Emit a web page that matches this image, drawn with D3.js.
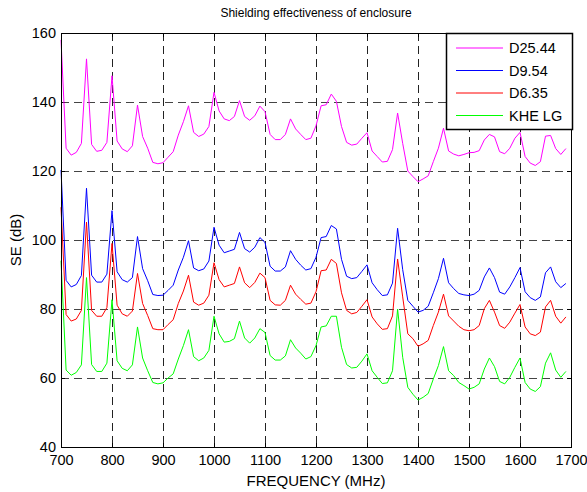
<!DOCTYPE html>
<html>
<head>
<meta charset="utf-8">
<script src="https://cdn.jsdelivr.net/npm/d3@7"></script>
<style>
  body { margin: 0; background: #fff; }
  svg { font-family: "Liberation Sans", Arial, sans-serif; }
</style>
</head>
<body>
<svg id="chart" width="587" height="492"></svg>
<script>
// 周波数 (MHz) 700〜1690, 10 MHz 刻み
const freq = d3.range(700, 1700, 10);

const d2544 = [
  158.0, 126.6, 124.6, 125.4, 128.0, 152.5, 127.7, 125.7, 126.0, 128.3,
  147.6, 128.7, 126.4, 125.6, 127.3, 139.1, 130.0, 126.6, 122.5, 122.1,
  122.4, 124.0, 125.6, 130.4, 134.3, 138.9, 131.2, 130.0, 130.7, 132.9,
  142.8, 137.4, 135.1, 134.6, 135.8, 140.4, 135.8, 134.7, 136.0, 138.8,
  137.2, 130.6, 129.1, 129.1, 130.6, 135.1, 132.2, 130.6, 129.1, 129.5,
  133.1, 138.9, 139.2, 142.3, 140.2, 132.9, 128.3, 127.5, 127.8, 129.5,
  131.1, 125.8, 124.2, 122.6, 122.8, 126.2, 136.8, 128.0, 120.0, 118.4,
  116.9, 117.7, 118.6, 122.7, 126.6, 132.4, 125.8, 124.9, 124.4, 124.8,
  125.3, 125.4, 125.9, 129.0, 130.6, 129.9, 125.6, 125.0, 126.6, 129.5,
  131.2, 124.2, 122.3, 121.6, 122.7, 130.1, 130.3, 126.5, 124.8, 126.5
];

const d954 = [
  120.3, 88.3, 86.4, 87.1, 89.7, 115.0, 89.8, 87.8, 87.8, 90.1,
  108.5, 90.8, 88.5, 87.8, 89.1, 101.0, 91.7, 88.2, 84.2, 83.9,
  84.0, 85.4, 86.9, 91.3, 95.0, 99.8, 91.9, 91.1, 91.6, 93.9,
  103.7, 98.5, 96.3, 96.8, 97.3, 102.2, 97.5, 96.5, 97.9, 100.7,
  99.3, 92.4, 91.0, 91.0, 92.2, 96.9, 94.4, 92.7, 91.3, 91.7,
  95.0, 100.7, 101.0, 104.2, 103.2, 94.4, 89.5, 88.8, 89.1, 90.9,
  92.8, 87.6, 85.6, 83.9, 84.1, 87.5, 103.4, 91.4, 82.5, 80.8,
  79.1, 79.6, 80.8, 84.7, 88.8, 94.7, 87.6, 85.9, 84.5, 84.1,
  83.9, 84.3, 85.4, 89.3, 91.9, 89.1, 84.9, 84.3, 86.4, 89.1,
  92.0, 85.0, 83.3, 82.5, 83.5, 90.5, 92.2, 87.9, 86.2, 87.4
];

const d635 = [
  109.5, 78.4, 76.5, 77.1, 79.6, 105.2, 79.6, 77.9, 77.9, 80.4,
  99.0, 81.1, 78.6, 77.9, 79.4, 90.3, 81.6, 78.1, 74.3, 74.0,
  74.0, 75.5, 76.9, 81.6, 85.2, 89.8, 82.0, 81.1, 81.7, 84.0,
  93.4, 88.5, 86.4, 86.9, 87.4, 92.2, 87.6, 86.2, 87.7, 90.4,
  89.1, 82.5, 81.2, 81.1, 82.5, 86.9, 84.3, 82.8, 81.4, 81.7,
  85.0, 91.1, 91.3, 94.4, 93.2, 84.7, 79.6, 78.6, 79.0, 80.8,
  82.7, 77.7, 75.7, 74.1, 74.3, 78.0, 94.5, 83.5, 72.8, 71.4,
  69.2, 69.9, 70.9, 75.2, 79.1, 84.3, 78.0, 76.5, 75.0, 74.0,
  73.7, 74.0, 75.2, 80.1, 82.5, 79.1, 75.2, 74.4, 76.2, 78.8,
  81.3, 74.8, 72.8, 72.3, 73.3, 80.6, 82.5, 77.9, 75.9, 77.7
];

const kheLg = [
  94.0, 62.3, 60.8, 61.6, 63.8, 89.1, 63.9, 61.9, 61.9, 64.3,
  82.7, 65.0, 62.8, 62.1, 63.8, 74.8, 65.8, 62.1, 58.7, 58.3,
  58.6, 60.0, 61.2, 65.5, 69.4, 74.0, 66.2, 65.0, 65.8, 68.0,
  77.9, 72.8, 70.4, 70.6, 71.4, 76.5, 71.6, 70.1, 71.6, 74.3,
  73.2, 66.5, 65.2, 65.2, 66.4, 71.1, 68.7, 67.2, 65.5, 66.2,
  69.4, 74.8, 75.1, 77.9, 77.9, 68.9, 63.9, 62.9, 63.1, 64.9,
  67.0, 62.1, 60.2, 58.4, 58.6, 62.1, 80.0, 66.0, 57.3, 55.3,
  53.6, 54.4, 55.5, 59.7, 63.6, 69.1, 62.1, 60.7, 58.7, 57.8,
  56.8, 57.3, 58.3, 62.6, 65.8, 63.3, 59.0, 58.3, 60.2, 63.1,
  65.8, 58.7, 56.8, 56.1, 57.5, 64.3, 67.3, 62.3, 60.2, 61.9
];

const seriesNames = ["D25.44", "D9.54", "D6.35", "KHE LG"];
const seriesColors = ["#ff00ff", "#0000ff", "#ff0000", "#00ff00"];
const xTicks = [700, 800, 900, 1000, 1100, 1200, 1300, 1400, 1500, 1600, 1700];
const yTicks = [40, 60, 80, 100, 120, 140, 160];

const seriesValues = [d2544, d954, d635, kheLg];

// レイアウト
const margin = { top: 33, right: 16, bottom: 45, left: 61 };
const width = 587 - margin.left - margin.right;
const height = 492 - margin.top - margin.bottom;

const svg = d3.select("#chart");
const g = svg.append("g").attr("transform", `translate(${margin.left},${margin.top})`);

const x = d3.scaleLinear().domain([700, 1700]).range([0, width]);
const y = d3.scaleLinear().domain([40, 160]).range([height, 0]);

// グリッド
g.append("g")
  .selectAll("line")
  .data(xTicks.slice(1, -1))
  .join("line")
  .attr("x1", (d) => Math.round(x(d)) + 0.5)
  .attr("x2", (d) => Math.round(x(d)) + 0.5)
  .attr("y1", 0)
  .attr("y2", height)
  .attr("stroke", "#222")
  .attr("stroke-width", 1)
  .attr("stroke-dasharray", "8,5");

g.append("g")
  .selectAll("line")
  .data(yTicks.slice(1, -1))
  .join("line")
  .attr("x1", 0)
  .attr("x2", width)
  .attr("y1", (d) => Math.round(y(d)) + 0.5)
  .attr("y2", (d) => Math.round(y(d)) + 0.5)
  .attr("stroke", "#444")
  .attr("stroke-width", 1.2)
  .attr("stroke-dasharray", "8,5");

// 軸
const xAxis = g.append("g")
  .attr("transform", `translate(0,${height})`)
  .call(d3.axisBottom(x).tickValues(xTicks).tickSize(-4).tickPadding(8).tickFormat(d3.format("d")));
const yAxis = g.append("g")
  .call(d3.axisLeft(y).tickValues(yTicks).tickSize(-4).tickPadding(5).tickFormat(d3.format("d")));

[xAxis, yAxis].forEach((a) => {
  a.select(".domain").remove();
  a.selectAll("text").attr("font-size", 14.5).attr("fill", "#000")
    .attr("font-family", "'Liberation Sans', Arial, sans-serif");
  a.selectAll("line").attr("stroke", "#000");
});

// 上・右の目盛り
g.append("g")
  .call(d3.axisTop(x).tickValues(xTicks).tickSize(-4).tickFormat(""))
  .call((a) => a.select(".domain").remove());
g.append("g")
  .attr("transform", `translate(${width},0)`)
  .call(d3.axisRight(y).tickValues(yTicks).tickSize(-4).tickFormat(""))
  .call((a) => a.select(".domain").remove());

// 系列
const line = d3.line()
  .x((d, i) => x(freq[i]))
  .y((d) => y(d));

g.append("g")
  .selectAll("path")
  .data(seriesValues)
  .join("path")
  .attr("d", (d) => line(d))
  .attr("fill", "none")
  .attr("stroke", (d, i) => seriesColors[i])
  .attr("stroke-width", 1)
  .attr("stroke-linejoin", "round");

// 枠
g.append("rect")
  .attr("x", 0.5)
  .attr("y", 0.5)
  .attr("width", width)
  .attr("height", height)
  .attr("fill", "none")
  .attr("stroke", "#000")
  .attr("stroke-width", 1);

// 凡例
const legend = g.append("g").attr("transform", `translate(${446 - margin.left},${0})`);
legend.append("rect")
  .attr("x", 0.5)
  .attr("y", 0.5)
  .attr("width", 126)
  .attr("height", 96)
  .attr("fill", "#fff")
  .attr("stroke", "#000")
  .attr("stroke-width", 1.5);

const rows = legend.selectAll(".row")
  .data(seriesNames)
  .join("g")
  .attr("class", "row")
  .attr("transform", (d, i) => `translate(0,${15 + i * 22.5})`);

rows.append("line")
  .attr("x1", 10)
  .attr("x2", 57)
  .attr("stroke", (d, i) => seriesColors[i])
  .attr("stroke-width", 1);

rows.append("text")
  .attr("x", 63)
  .attr("dy", "0.35em")
  .attr("font-size", 14.5)
  .text((d) => d);

// タイトル・軸ラベル
svg.append("text")
  .attr("x", margin.left + width / 2)
  .attr("y", 17)
  .attr("text-anchor", "middle")
  .attr("font-size", 12)
  .text("Shielding effectiveness of enclosure");

svg.append("text")
  .attr("x", margin.left + width / 2)
  .attr("y", 486)
  .attr("text-anchor", "middle")
  .attr("font-size", 15)
  .text("FREQUENCY (MHz)");

svg.append("text")
  .attr("transform", `translate(21,${margin.top + height / 2}) rotate(-90)`)
  .attr("text-anchor", "middle")
  .attr("font-size", 15)
  .text("SE (dB)");
</script>
</body>
</html>
